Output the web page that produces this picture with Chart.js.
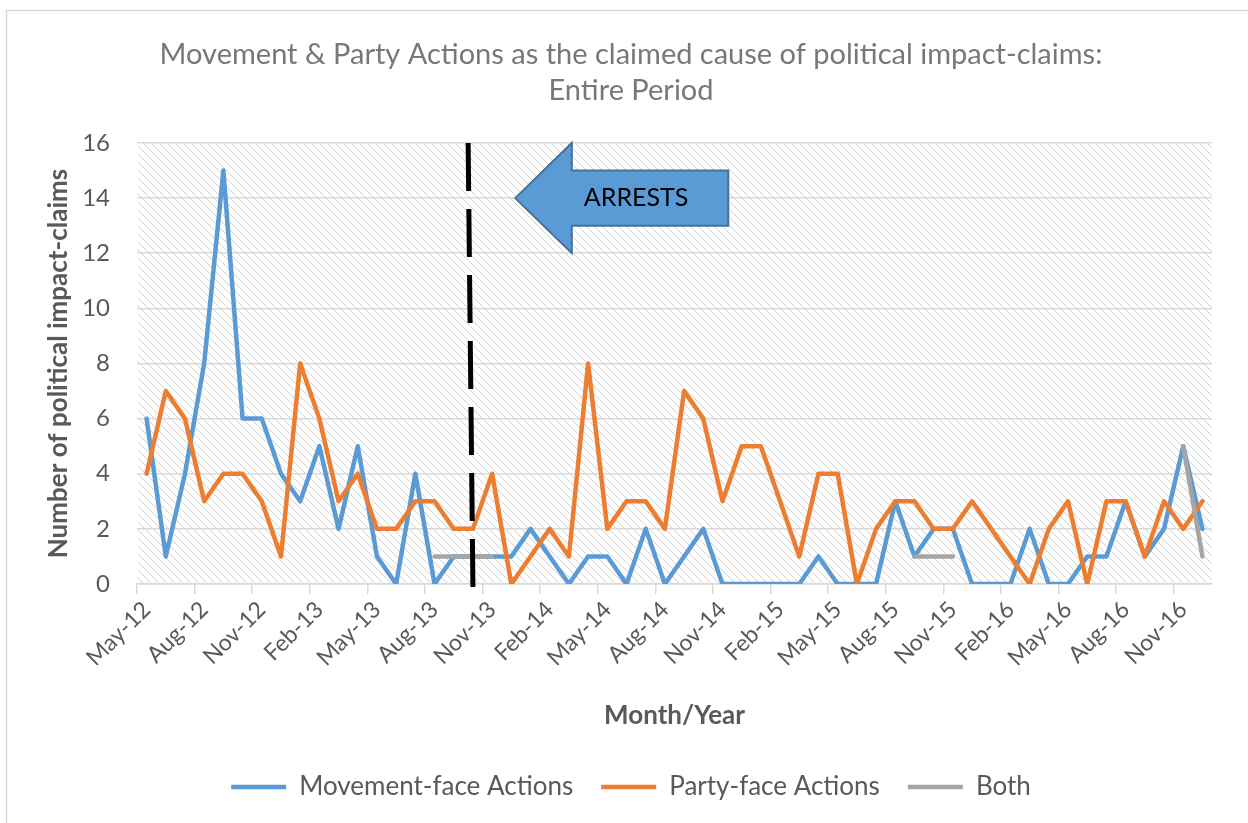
<!DOCTYPE html>
<html>
<head>
<meta charset="utf-8">
<script src="https://cdn.jsdelivr.net/npm/chart.js@4.4.0/dist/chart.umd.min.js"></script>
<style>
  html, body { margin: 0; padding: 0; background: #fff; overflow: hidden; }
</style>
</head>
<body>
<canvas id="impactChart" width="1248" height="823"></canvas>
<script>
const months = [
    'May-12', 'Jun-12', 'Jul-12', 'Aug-12', 'Sep-12', 'Oct-12', 'Nov-12', 'Dec-12',
    'Jan-13', 'Feb-13', 'Mar-13', 'Apr-13', 'May-13', 'Jun-13', 'Jul-13', 'Aug-13', 'Sep-13', 'Oct-13', 'Nov-13', 'Dec-13',
    'Jan-14', 'Feb-14', 'Mar-14', 'Apr-14', 'May-14', 'Jun-14', 'Jul-14', 'Aug-14', 'Sep-14', 'Oct-14', 'Nov-14', 'Dec-14',
    'Jan-15', 'Feb-15', 'Mar-15', 'Apr-15', 'May-15', 'Jun-15', 'Jul-15', 'Aug-15', 'Sep-15', 'Oct-15', 'Nov-15', 'Dec-15',
    'Jan-16', 'Feb-16', 'Mar-16', 'Apr-16', 'May-16', 'Jun-16', 'Jul-16', 'Aug-16', 'Sep-16', 'Oct-16', 'Nov-16', 'Dec-16'
]

const movementFace = [
    6, 1, 4, 8, 15, 6, 6, 4, 3, 5, 2, 5, 1, 0, 4, 0, 1, 1, 1, 1,
    2, 1, 0, 1, 1, 0, 2, 0, 1, 2, 0, 0, 0, 0, 0, 1, 0, 0, 0, 3,
    1, 2, 2, 0, 0, 0, 2, 0, 0, 1, 1, 3, 1, 2, 5, 2
]

const partyFace = [
    4, 7, 6, 3, 4, 4, 3, 1, 8, 6, 3, 4, 2, 2, 3, 3, 2, 2, 4, 0,
    1, 2, 1, 8, 2, 3, 3, 2, 7, 6, 3, 5, 5, 3, 1, 4, 4, 0, 2, 3,
    3, 2, 2, 3, 2, 1, 0, 2, 3, 0, 3, 3, 1, 3, 2, 3
]

const both = [
    null, null, null, null, null, null, null, null, null, null, null, null, null, null, null, 1, 1, 1, 1, null,
    null, null, null, null, null, null, null, null, null, null, null, null, null, null, null, null, null, null, null, null,
    1, 1, 1, null, null, null, null, null, null, null, null, null, null, null, 5, 1
]

const yTicks = [0, 2, 4, 6, 8, 10, 12, 14, 16]

const titleLines = ['Movement & Party Actions as the claimed cause of political impact-claims:', 'Entire Period']

// annotation: arrests marker, in category index / value units
const arrestLine = { xTop: 16.75, yTop: 16, xBottom: 17, yBottom: -0.15 }
const arrestArrow = [[19.2, 14], [22.15, 16], [22.15, 15], [30.3, 15], [30.3, 13], [22.15, 13], [22.15, 12]]
const arrestLabel = { text: 'ARRESTS', x: 25.5, y: 14 }

const FONT = "Lato, 'Open Sans', sans-serif"
const GRID = '#d9d9d9'
const TEXT = '#595959'

const hatchTile = (() => {
    const tile = document.createElement('canvas')
    tile.width = 8
    tile.height = 8
    const t = tile.getContext('2d')
    t.fillStyle = '#ffffff'
    t.fillRect(0, 0, 8, 8)
    t.fillStyle = '#d0d0d0'
    for (let i = 0; i < 8; i++) t.fillRect(i, i, 1, 1)
    return tile
})()

const plotDecor = {
    id: 'plotDecor',
    beforeDraw(chart) {
        const { ctx, chartArea: a } = chart
        ctx.save()
        ctx.fillStyle = '#fff'
        ctx.fillRect(0, 0, chart.width, chart.height)
        ctx.strokeStyle = GRID
        ctx.lineWidth = 1.5
        ctx.strokeRect(6.5, 10.5, chart.width + 20, chart.height + 20)
        ctx.fillStyle = ctx.createPattern(hatchTile, 'repeat')
        ctx.fillRect(a.left, a.top, a.right - a.left, a.bottom - a.top)
        ctx.restore()
    },
    afterDatasetsDraw(chart) {
        const { ctx, scales: { x, y } } = chart
        ctx.save()

        ctx.strokeStyle = '#000'
        ctx.lineWidth = 5
        ctx.setLineDash([48, 18])
        ctx.beginPath()
        ctx.moveTo(x.getPixelForValue(arrestLine.xTop), y.getPixelForValue(arrestLine.yTop))
        ctx.lineTo(x.getPixelForValue(arrestLine.xBottom), y.getPixelForValue(arrestLine.yBottom))
        ctx.stroke()
        ctx.setLineDash([])

        ctx.beginPath()
        arrestArrow.forEach(([px, py], idx) => {
            const cx = x.getPixelForValue(px)
            const cy = y.getPixelForValue(py)
            if (idx === 0) ctx.moveTo(cx, cy)
            else ctx.lineTo(cx, cy)
        })
        ctx.closePath()
        ctx.fillStyle = '#5b9bd5'
        ctx.fill()
        ctx.strokeStyle = '#41719c'
        ctx.lineWidth = 2
        ctx.stroke()

        ctx.fillStyle = '#000'
        ctx.font = '25px ' + FONT
        ctx.textAlign = 'center'
        ctx.textBaseline = 'middle'
        ctx.fillText(arrestLabel.text, x.getPixelForValue(arrestLabel.x), y.getPixelForValue(arrestLabel.y))
        ctx.restore()
    }
}

Chart.defaults.font.family = FONT
Chart.defaults.color = TEXT

const lineStyle = {
    pointRadius: 0,
    pointHoverRadius: 0,
    borderWidth: 4.5,
    tension: 0,
    borderJoinStyle: 'round',
    borderCapStyle: 'round',
    spanGaps: false
}

const config = {
    type: 'line',
    data: {
        labels: months,
        datasets: [
            { ...lineStyle, label: 'Movement-face Actions', data: movementFace, borderColor: '#5b9bd5', backgroundColor: '#5b9bd5', order: 3 },
            { ...lineStyle, label: 'Party-face Actions', data: partyFace, borderColor: '#ed7d31', backgroundColor: '#ed7d31', order: 2 },
            { ...lineStyle, label: 'Both', data: both, borderColor: '#a5a5a5', backgroundColor: '#a5a5a5', order: 1 }
        ]
    },
    options: {
        responsive: false,
        animation: false,
        devicePixelRatio: 1,
        layout: { padding: { left: 14, right: 0, top: 0, bottom: 13 } },
        plugins: {
            title: {
                display: true,
                text: titleLines,
                color: '#787878',
                font: { size: 29, weight: 'normal', lineHeight: 1.241 },
                padding: { top: 37, bottom: 34 }
            },
            legend: {
                position: 'bottom',
                labels: {
                    usePointStyle: true,
                    pointStyle: 'line',
                    pointStyleWidth: 55,
                    padding: 28,
                    color: TEXT,
                    font: { size: 26 },
                    sort: (a, b) => a.datasetIndex - b.datasetIndex
                }
            },
            tooltip: { enabled: false }
        },
        scales: {
            x: {
                offset: true,
                grid: {
                    offset: true,
                    drawOnChartArea: false,
                    drawTicks: true,
                    tickLength: 10,
                    lineWidth: 1.5,
                    color: (c) => (c.index % 3 === 0 ? GRID : 'rgba(0,0,0,0)')
                },
                border: { color: GRID, width: 1.5 },
                ticks: {
                    autoSkip: false,
                    minRotation: 45,
                    maxRotation: 45,
                    padding: 2,
                    color: TEXT,
                    font: { size: 23 },
                    callback: (v, i) => (i % 3 === 0 ? months[i] : '')
                },
                title: {
                    display: true,
                    text: 'Month/Year',
                    color: TEXT,
                    font: { size: 26, weight: 'bold' },
                    padding: { top: 0, bottom: 15 }
                },
                afterFit: (s) => { s.height = 162 }
            },
            y: {
                min: 0,
                max: 16,
                afterBuildTicks: (s) => { s.ticks = yTicks.map(v => ({ value: v })) },
                ticks: { padding: 27, color: TEXT, font: { size: 24 } },
                grid: { color: GRID, lineWidth: 1.5, drawTicks: false },
                border: { display: false },
                title: {
                    display: true,
                    text: 'Number of political impact-claims',
                    color: TEXT,
                    font: { size: 26, weight: 'bold' },
                    padding: { top: 29, bottom: 0 }
                },
                afterFit: (s) => { s.width = 123 }
            },
            y2: {
                position: 'right',
                display: true,
                grid: { display: false },
                border: { display: false },
                ticks: { display: false },
                afterFit: (s) => { s.width = 36 }
            }
        }
    },
    plugins: [plotDecor]
}

const chart = new Chart(document.getElementById('impactChart').getContext('2d'), config)
</script>
</body>
</html>
